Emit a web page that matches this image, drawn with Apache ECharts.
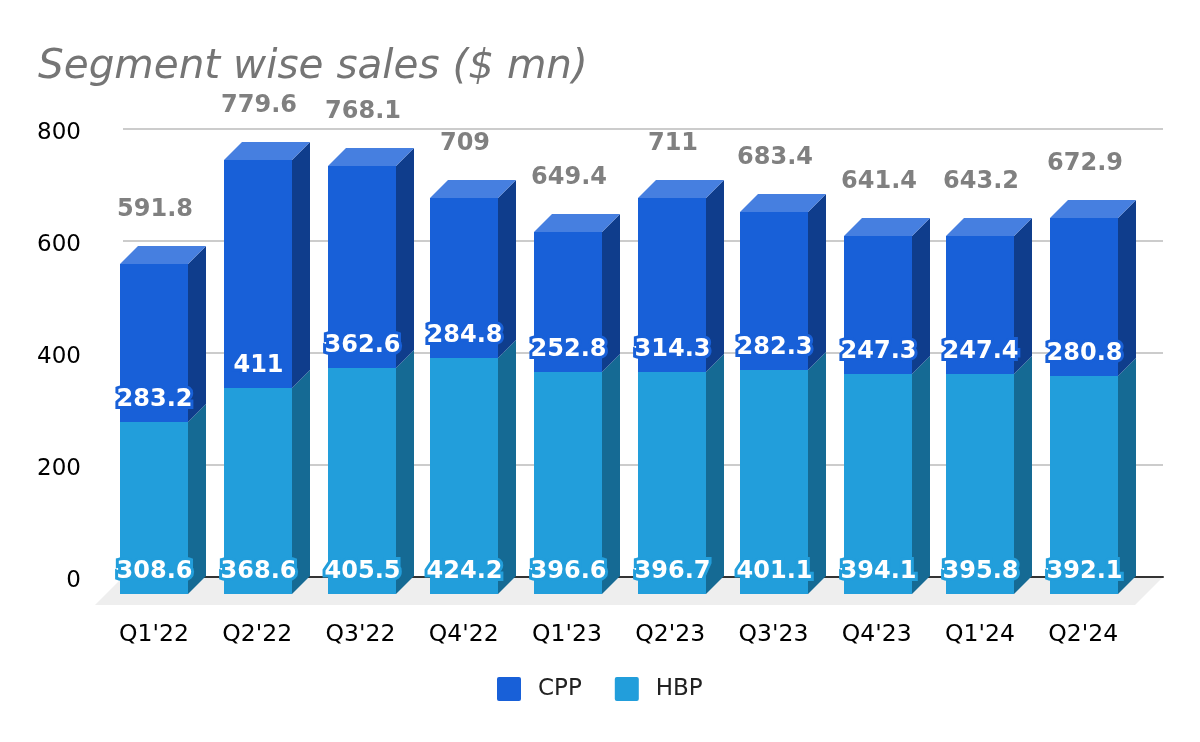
<!DOCTYPE html>
<html>
<head>
<meta charset="utf-8">
<style>html,body{margin:0;padding:0;background:#fff}#c{width:1200px;height:742px}</style>
<script src="https://cdn.jsdelivr.net/npm/echarts@6/dist/echarts.min.js"></script>
</head>
<body>
<div id="c"></div>
<script>
var categories = ["Q1'22","Q2'22","Q3'22","Q4'22","Q1'23","Q2'23","Q3'23","Q4'23","Q1'24","Q2'24"];
var hbp = [308.6,368.6,405.5,424.2,396.6,396.7,401.1,394.1,395.8,392.1];
var cpp = [283.2,411,362.6,284.8,252.8,314.3,282.3,247.3,247.4,280.8];
var totals = [591.8,779.6,768.1,709,649.4,711,683.4,641.4,643.2,672.9];
var yTicks = [0,200,400,600,800];

var BAR_W = 68, DEPTH = 18;
var FONT = "'DejaVu Sans'";
var ICON = 'path://M2,0H22Q24,0 24,2V22Q24,24 22,24H2Q0,24 0,22V2Q0,0 2,0Z';
function evenRound(v){ return 2*Math.round(v/2); }
function evenCeil(v){ return 2*Math.ceil(v/2 - 1e-6); }
function poly(pts, color){ return {type:'polygon', shape:{points:pts}, style:{fill:color}, silent:true}; }

function prism(front, side, top, outline, showTotal){
  return function(params, api){
    var i = api.value(0), base = api.value(1), val = api.value(2);
    var x0 = evenCeil(api.coord([i, 0])[0] - BAR_W/2), x1 = x0 + BAR_W;
    var yb = evenRound(api.coord([i, base])[1]), yt = evenRound(api.coord([i, base+val])[1]);
    var d = DEPTH, cx = x0 + BAR_W/2;
    var kids = [
      poly([[x1,yb],[x1+d,yb-d],[x1+d,yt-d],[x1,yt]], side),
      poly([[x0,yb],[x1,yb],[x1,yt],[x0,yt]], front)
    ];
    if (top) kids.push(poly([[x0,yt],[x1,yt],[x1+d,yt-d],[x0+d,yt-d]], top));
    kids.push({type:'text', silent:true, style:{
      x:cx+0.5, y:yb-22, text:String(val), align:'center', verticalAlign:'middle',
      font:"bold 24px "+FONT, fill:'#ffffff', stroke:outline, lineWidth:6
    }});
    if (showTotal) kids.push({type:'text', silent:true, style:{
      x:cx+1, y:yt-54, text:String(totals[i]), align:'center', verticalAlign:'middle',
      font:"bold 24px "+FONT, fill:'#808080'
    }});
    return {type:'group', children:kids};
  };
}

var chart = echarts.init(document.getElementById('c'), null, {renderer:'canvas', width:1200, height:742});
chart.setOption({
  animation:false,
  backgroundColor:'#ffffff',
  title:{text:'Segment wise sales ($ mn)', left:33, top:42,
    textStyle:{fontFamily:FONT, fontStyle:'italic', fontWeight:'normal', fontSize:40.5, color:'#757575'}},
  legend:{data:['CPP','HBP'], left:497, top:677, padding:0, itemWidth:24, itemHeight:24, itemGap:33, icon:ICON,
    textStyle:{fontFamily:FONT, fontSize:23, color:'#222222', padding:[0,0,0,12]}},
  graphic:[{type:'polygon', z:-1, silent:true, shape:{points:[[95,605],[1135,605],[1163,577],[123,577]]}, style:{fill:'#eeeeee'}}],
  grid:[
    {left:102.375, width:1032.5, top:147.8, height:446.2},
    {left:123, width:1040, top:129, height:448}
  ],
  xAxis:[
    {type:'category', gridIndex:0, data:categories, axisLine:{show:false}, axisTick:{show:false},
      axisLabel:{margin:29, fontFamily:FONT, fontSize:23.5, color:'#000000'}},
    {type:'category', gridIndex:1, data:categories, axisLabel:{show:false}, axisTick:{show:false},
      axisLine:{show:true, lineStyle:{color:'#333333', width:2}}}
  ],
  yAxis:[
    {type:'value', gridIndex:0, min:0, max:800, show:false},
    {type:'value', gridIndex:1, min:0, max:yTicks[yTicks.length-1], interval:yTicks[1], axisLine:{show:false}, axisTick:{show:false},
      axisLabel:{margin:42, fontFamily:FONT, fontSize:23, color:'#000000', verticalAlign:'top', lineHeight:8},
      splitLine:{lineStyle:{color:'#cccccc', width:2}}}
  ],
  series:[
    {name:'HBP', type:'custom', xAxisIndex:0, yAxisIndex:0, itemStyle:{color:'#229edb'},
      encode:{x:0,y:2}, data:hbp.map(function(v,i){return [i,0,v];}),
      renderItem:prism('#229edb','#156a94',null,'#229edb',false)},
    {name:'CPP', type:'custom', xAxisIndex:0, yAxisIndex:0, itemStyle:{color:'#1860d8'},
      encode:{x:0,y:2}, data:cpp.map(function(v,i){return [i,hbp[i],v];}),
      renderItem:prism('#1860d8','#0f3d8c','#467fe0','#1860d8',true)}
  ]
});
</script>
</body>
</html>
